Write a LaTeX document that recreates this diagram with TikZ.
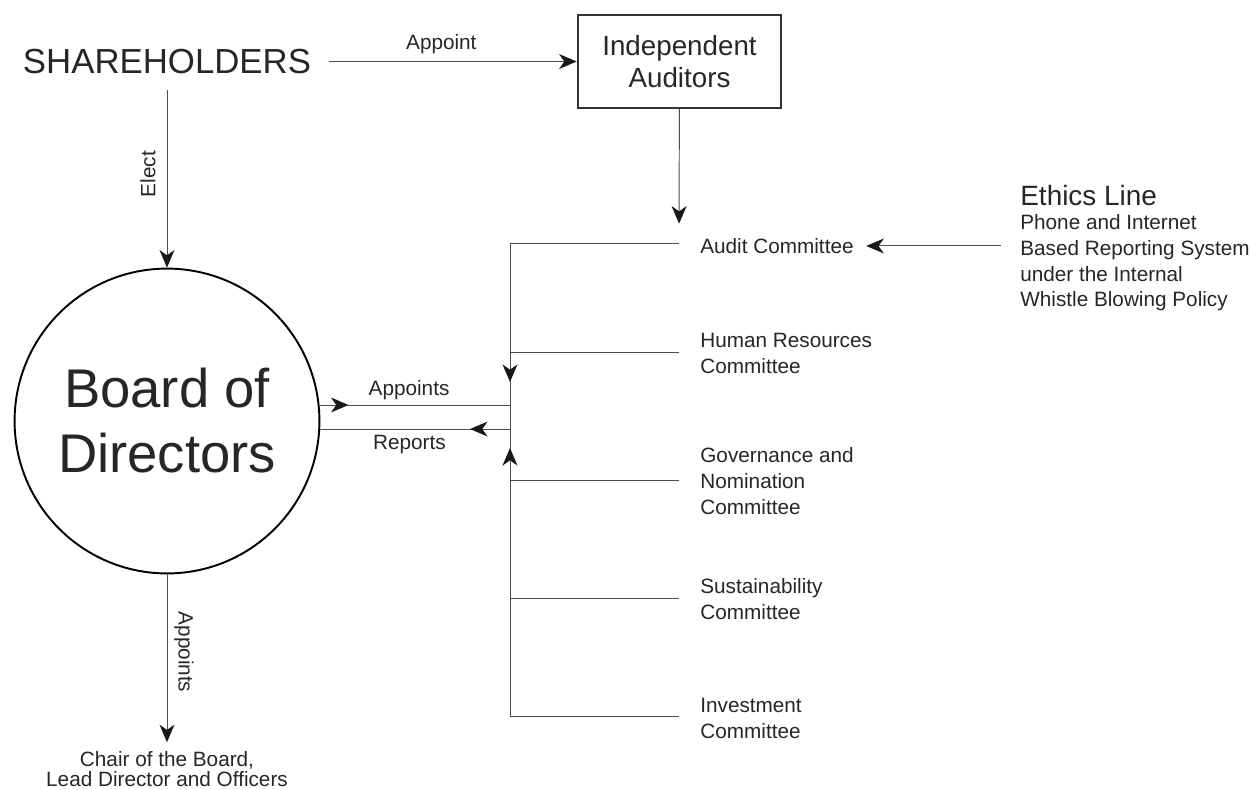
\documentclass[tikz,border=0pt]{standalone}
\usepackage{fontspec}
\setmainfont{Liberation Sans}
\usetikzlibrary{arrows.meta,calc,positioning}

\begin{document}
\begin{tikzpicture}[
	x=0.02cm, y=-0.02cm,
	every node/.style = {inner sep=0pt, text=black!85},
		line/.style = {draw=black!70, line width=0.55pt},
		 arr/.style = {line, -{Stealth[length=10pt, width=8.5pt, inset=3pt, color=black!90]}},
		 lbl/.style = {font=\fontsize{11.8}{14.7}\selectfont},
committee/.style = {lbl, anchor=north west, align=left}
	]
\useasboundingbox (0,0) rectangle (1257,789);

% owners and auditors
\node [font=\fontsize{19.8}{24}\selectfont]
			(share) at (167,61.5) {SHAREHOLDERS};
\node [draw=black!80, line width=1.1pt, minimum width=116pt, minimum height=53pt,
			 align=center, font=\fontsize{15.8}{18.7}\selectfont]
			(aud) at (679.5,61.5) {Independent\\Auditors};
\node [circle, draw, line width=1.1pt, minimum size=173.5pt,
			 align=center, font=\fontsize{31}{37}\selectfont]
			(board) at (167,421) {Board of\\Directors};
\node [lbl, align=center, anchor=north, font=\fontsize{11.8}{11.2}\selectfont]
			(chair) at (167,751) {Chair of the Board,\\Lead Director and Officers};
%
\node [committee] (audc) at (700,238) {Audit Committee};
\node [committee] (hrc)  at (700,333) {Human Resources\\Committee};
\node [committee] (govc) at (700,447) {Governance and\\Nomination\\Committee};
\node [committee] (susc) at (700,578) {Sustainability\\Committee};
\node [committee] (invc) at (700,698) {Investment\\Committee};
%
\node [anchor=base west, font=\fontsize{15.9}{19}\selectfont]
			(ethics) at (1020,205) {Ethics Line};
\node [committee] (ethtxt) at (1020,214)
			{Phone and Internet\\Based Reporting System\\under the Internal\\Whistle Blowing Policy};
\node [lbl, rotate=90]  (elect) at (148,174) {Elect};
\node [lbl, rotate=-90] (appd)  at (184,652) {Appoints};

% committee bus
\coordinate (auA)  at (679,243);
\coordinate (hrA)  at (679,352);
\coordinate (govA) at (679,480);
\coordinate (susA) at (679,598);
\coordinate (invA) at (679,716);
\coordinate (busTop) at (510,243);
\coordinate (busBot) at (510,716);
\coordinate (downTip) at (510,382);
\coordinate (upTip)   at (510,448);

\draw [line] (auA) -- (busTop) -- (busBot) -- (invA);
\foreach \c in {hrA,govA,susA}
	\draw [line] (\c) -- (\c -| busTop);
\draw [arr] (busTop) -- (downTip);
\draw [arr] (busBot) -- (upTip);

%%
\draw [arr, shorten <=10pt]
	(share) -- node[lbl, above=4.3pt, pos=0.49] {Appoint} (aud);
\draw [arr, shorten >=11pt] (aud) -- (auA);
\draw [arr, shorten <=9pt] (share) -- (board);
\draw [arr, shorten >=5pt] (board) -- (chair);
\draw [arr, shorten <=11pt, shorten >=7pt] (ethtxt.west |- audc) -- (audc);
%
\draw [line] (board.6) -- node[lbl, above=2.5pt, pos=0.47] {Appoints} (board.6 -| busTop);
\draw [arr] (board.6) -- ($(board.6)+(29,0)$);
\draw [line] (board.-3 -| busTop) -- node[lbl, below=3.4pt, pos=0.53] {Reports} (board.-3);
\draw [arr] (board.-3 -| busTop) -- ($(board.-3 -| busTop)+(-40,0)$);
\end{tikzpicture}
\end{document}
